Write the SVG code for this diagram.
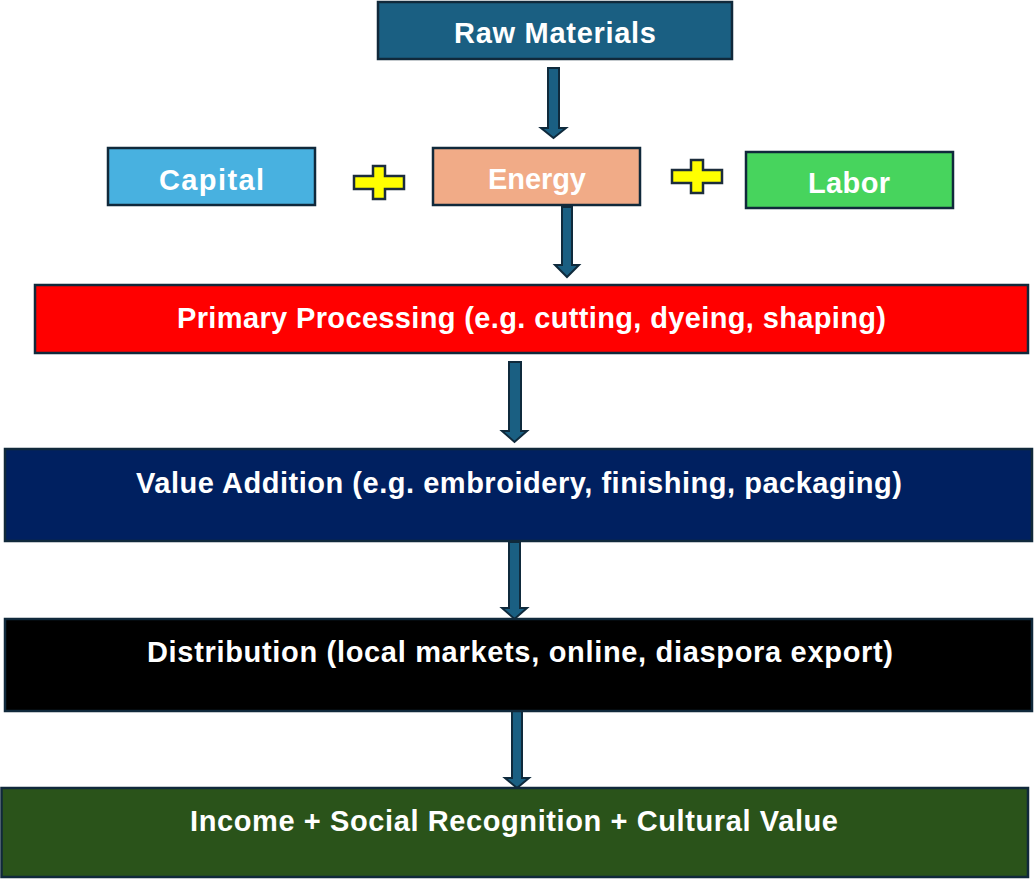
<svg xmlns="http://www.w3.org/2000/svg" width="1034" height="879" viewBox="0 0 1034 879">
  <style>
    .box { stroke: #10293b; stroke-width: 2.5; }
    .lbl { font-family: "Liberation Sans", Arial, sans-serif; font-weight: bold; font-size: 29px; fill: #ffffff; text-anchor: middle; }
    .arrow { fill: #1a5f82; stroke: #0f2a3c; stroke-width: 2; stroke-linejoin: miter; }
    .plus { fill: #ffff00; stroke: #1c2d3c; stroke-width: 2.5; }
  </style>
  <rect width="1034" height="879" fill="#ffffff"/>

  <!-- flow arrows -->
  <g id="connectors">
    <path class="arrow" d="M548,68 H559 V128 H566 L553.5,138 L541,128 H548 Z"/>
    <path class="arrow" d="M562,207 H572 V265 H579 L567,277 L555,265 H562 Z"/>
    <path class="arrow" d="M509,362 H521 V431 H527 L514.5,442 L502,431 H509 Z"/>
    <path class="arrow" d="M509,542 H520 V608 H527 L514.5,619 L502,608 H509 Z"/>
    <path class="arrow" d="M512,710 H522 V778 H529 L517,788 L505,778 H512 Z"/>
  </g>

  <!-- plus signs between inputs -->
  <g id="plus-left">
    <path class="plus" d="M373,166 H385 V176 H404 V189 H385 V199 H373 V189 H354 V176 H373 Z"/>
  </g>
  <g id="plus-right">
    <path class="plus" d="M691,160 H703 V170 H722 V183 H703 V193 H691 V183 H672 V170 H691 Z"/>
  </g>

  <g id="raw-materials">
    <rect class="box" x="378" y="2" width="354" height="57" fill="#1a5f82"/>
    <text class="lbl" x="555" y="43" textLength="202" lengthAdjust="spacing">Raw Materials</text>
  </g>

  <g id="capital">
    <rect class="box" x="108" y="148" width="207" height="57" fill="#48b1e0"/>
    <text class="lbl" x="211.5" y="190" textLength="105" lengthAdjust="spacing">Capital</text>
  </g>

  <g id="energy">
    <rect class="box" x="433" y="148" width="207" height="57" fill="#f1ab87"/>
    <text class="lbl" x="537" y="189" textLength="98" lengthAdjust="spacing">Energy</text>
  </g>

  <g id="labor">
    <rect class="box" x="746" y="152" width="207" height="56" fill="#47d45d"/>
    <text class="lbl" x="849" y="193" textLength="82" lengthAdjust="spacing">Labor</text>
  </g>

  <g id="primary-processing">
    <rect class="box" x="35" y="285" width="993" height="68" fill="#ff0000"/>
    <text class="lbl" x="531.5" y="328" textLength="709" lengthAdjust="spacing">Primary Processing (e.g. cutting, dyeing, shaping)</text>
  </g>

  <g id="value-addition">
    <rect class="box" x="5" y="449" width="1027" height="92" fill="#002060"/>
    <text class="lbl" x="519" y="493" textLength="766" lengthAdjust="spacing">Value Addition (e.g. embroidery, finishing, packaging)</text>
  </g>

  <g id="distribution">
    <rect class="box" x="5" y="619" width="1027" height="92" fill="#000000"/>
    <text class="lbl" x="520" y="662" textLength="746" lengthAdjust="spacing">Distribution (local markets, online, diaspora export)</text>
  </g>

  <g id="outcomes">
    <rect class="box" x="1.5" y="788" width="1026.5" height="89" fill="#2a531a"/>
    <text class="lbl" x="514" y="831" textLength="648" lengthAdjust="spacing">Income + Social Recognition + Cultural Value</text>
  </g>
</svg>
